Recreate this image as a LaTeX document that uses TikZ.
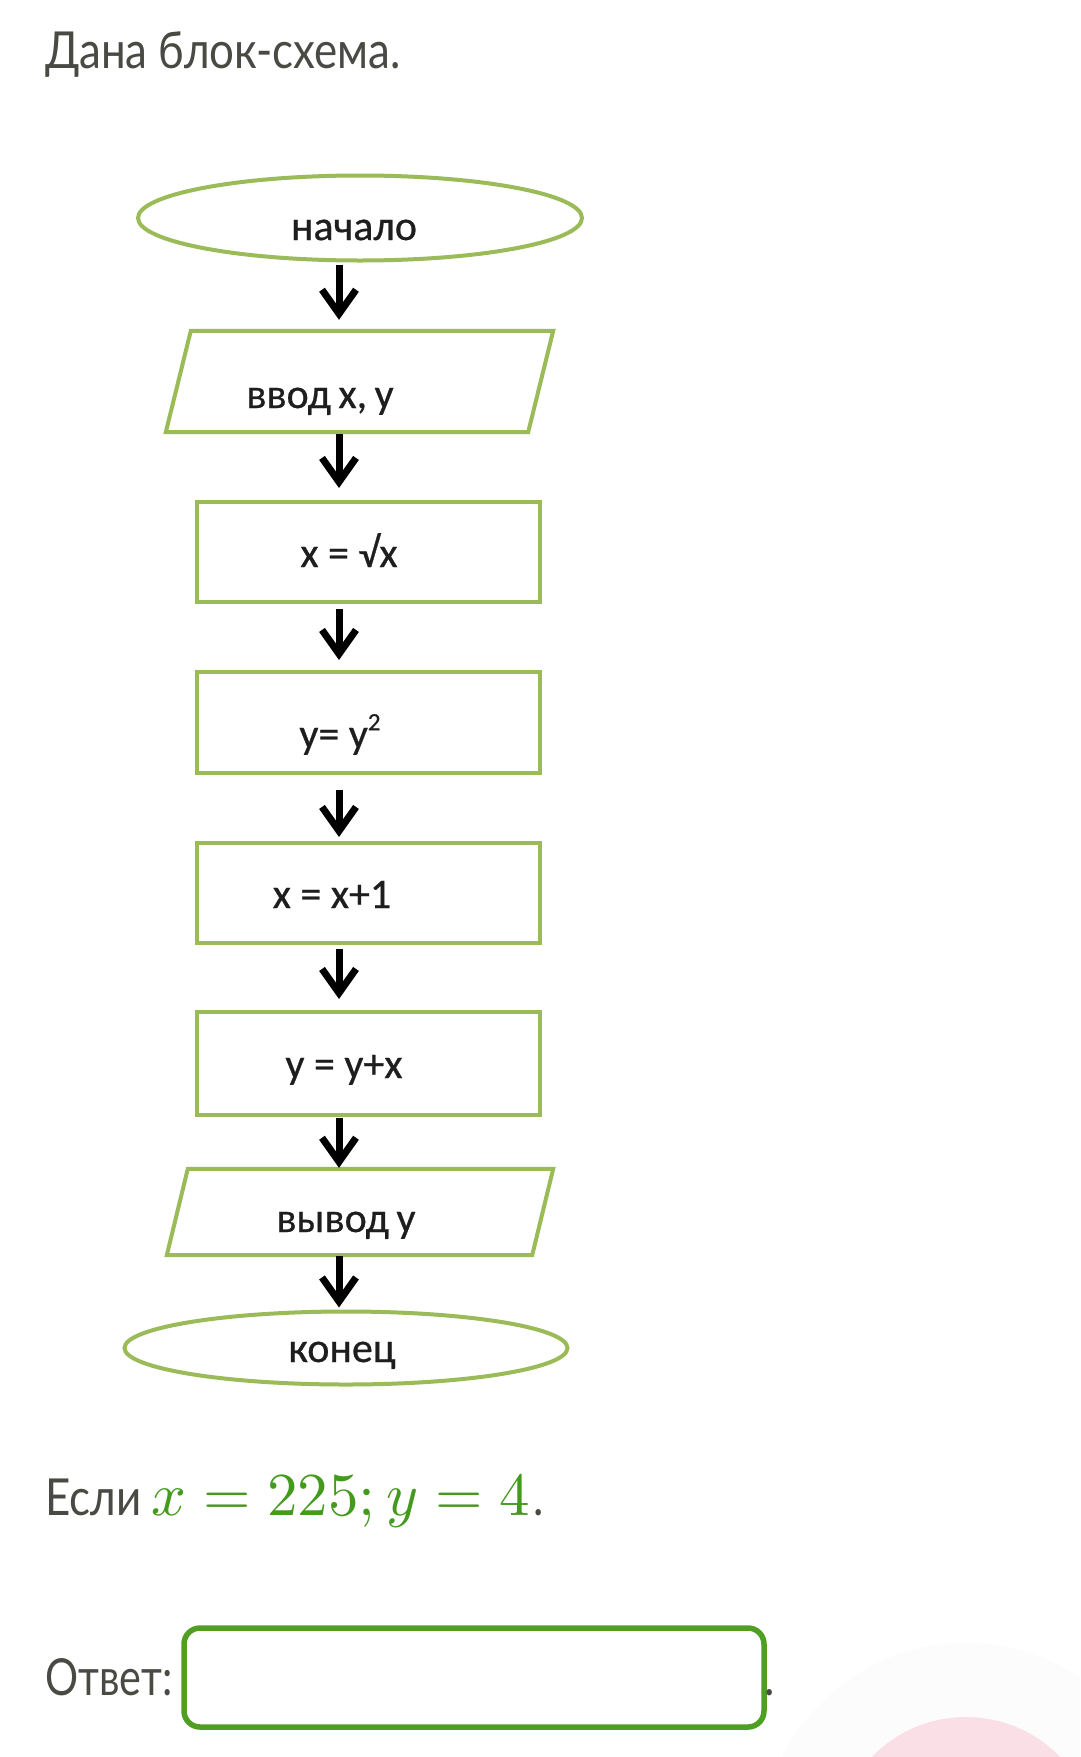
\documentclass[tikz,border=0pt]{standalone}
\usepackage[no-math]{fontspec}
\usepackage{graphicx}
\usetikzlibrary{shapes.geometric,arrows.meta}
\newfontfamily\uifont[FakeStretch=0.86]{Lato}
\newfontfamily\uifontn[FakeStretch=0.81]{Lato}
\newfontfamily\fcfont[FakeBold=0.6]{Carlito}
\definecolor{fcgreen}{HTML}{9BBB59}
\definecolor{fctext}{HTML}{1E1E1E}
\definecolor{uigray}{HTML}{4A4A44}
\definecolor{mgreen}{HTML}{449A1C}
\definecolor{ansgreen}{HTML}{4F9F22}
\definecolor{pinkc}{HTML}{FADFE6}
\definecolor{faintc}{HTML}{FCFCFC}
\tikzset{
  fcline/.style={draw=fcgreen, line width=4pt, line join=miter},
  proc/.style={fcline, rectangle, inner sep=0pt, minimum width=343pt},
  term/.style={fcline, ellipse, inner sep=0pt},
  iobox/.style={draw=none, rectangle, inner sep=0pt},
  ftext/.style={font=\fcfont\fontsize{42}{45}\selectfont, text=fctext, inner sep=0pt, anchor=base},
  uitext/.style={font=\uifont\fontsize{51}{56}\selectfont, text=uigray, inner sep=0pt, anchor=base west},
  arr/.style={draw=black, line width=7pt, -{Straight Barb[length=24pt,width=34pt]}},
}
\begin{document}
\begin{tikzpicture}[x=1pt,y=-1pt]
\path[use as bounding box, fill=white] (0,0) rectangle (1080,1757);
\begin{scope}
\clip (0,0) rectangle (1080,1757);
\fill[faintc] (966,1848) circle (205pt);
\fill[pinkc] (966,1848) circle (131pt);
\end{scope}

% title
\node[uitext] (title) at (45,68) {Дана блок-схема.};

% flowchart shapes
\node[term, minimum width=444pt, minimum height=85pt] (start) at (360,218) {};
\node[iobox, minimum width=387pt, minimum height=101pt] (io1) at (359.5,381.5) {};
\draw[fcline] ([xshift=25pt]io1.north west) -- (io1.north east) -- ([xshift=-25pt]io1.south east) -- (io1.south west) -- cycle;
\node[proc, minimum height=100pt] (b1) at (368.5,552) {};
\node[proc, minimum height=101pt] (b2) at (368.5,722.5) {};
\node[proc, minimum height=100pt] (b3) at (368.5,893) {};
\node[proc, minimum height=103pt] (b4) at (368.5,1063.5) {};
\node[iobox, minimum width=386pt, minimum height=86pt] (io2) at (360,1212) {};
\draw[fcline] ([xshift=21pt]io2.north west) -- (io2.north east) -- ([xshift=-21pt]io2.south east) -- (io2.south west) -- cycle;
\node[term, minimum width=443pt, minimum height=73pt] (end) at (346,1348) {};

% flowchart texts
\node[ftext] (t0) at (354,240) {начало};
\node[ftext] (t1) at (320,408) {ввод\hspace{-2pt} x,\hspace{-2pt} y};
\node[ftext] (t2) at (349,567) {x = √x};
\node[ftext] (t3) at (340,748) {y= y\raisebox{0.42em}{\fontsize{25}{27}\selectfont 2}};
\node[ftext] (t4) at (332,908) {x = x+1};
\node[ftext] (t5) at (344,1078) {y = y+x};
\node[ftext] (t6) at (346,1232) {вывод\hspace{-2pt} y};
\node[ftext] (t7) at (342,1362) {конец};

% connectors
\coordinate (col) at (339,0);
\draw[arr, shorten <=2pt, shorten >=11pt] (start.south -| col) -- (io1.north -| col);
\draw[arr, shorten <=2pt, shorten >=12pt] (io1.south -| col) -- (b1.north -| col);
\draw[arr, shorten <=5pt, shorten >=10pt] (b1.south -| col) -- (b2.north -| col);
\draw[arr, shorten <=15pt, shorten >=4pt] (b2.south -| col) -- (b3.north -| col);
\draw[arr, shorten <=4pt, shorten >=11pt] (b3.south -| col) -- (b4.north -| col);
\draw[arr, shorten <=1pt, shorten >=1pt] (b4.south -| col) -- (io2.north -| col);
\draw[arr, shorten <=1pt, shorten >=2pt] (io2.south -| col) -- (end.north -| col);

% question
\node[uitext] (esli) at (45,1515) {Если};
\node[inner sep=0pt, anchor=base west, text=mgreen] (cond) at (151,1515) {\scalebox{6.1}{$x=225; y=4$}};
\node[uitext, anchor=base west] (dot1) at ([xshift=3pt]cond.base east) {.};

% answer
\node[uitext, font=\uifontn\fontsize{51}{56}\selectfont] (otvet) at (45,1695) {Ответ:};
\node[draw=ansgreen, line width=5.5pt, rounded corners=16pt, minimum width=580pt, minimum height=99pt, inner sep=0pt] (ans) at (474,1677.5) {};
\node[uitext] (dot2) at (764,1695) {.};
\end{tikzpicture}
\end{document}
